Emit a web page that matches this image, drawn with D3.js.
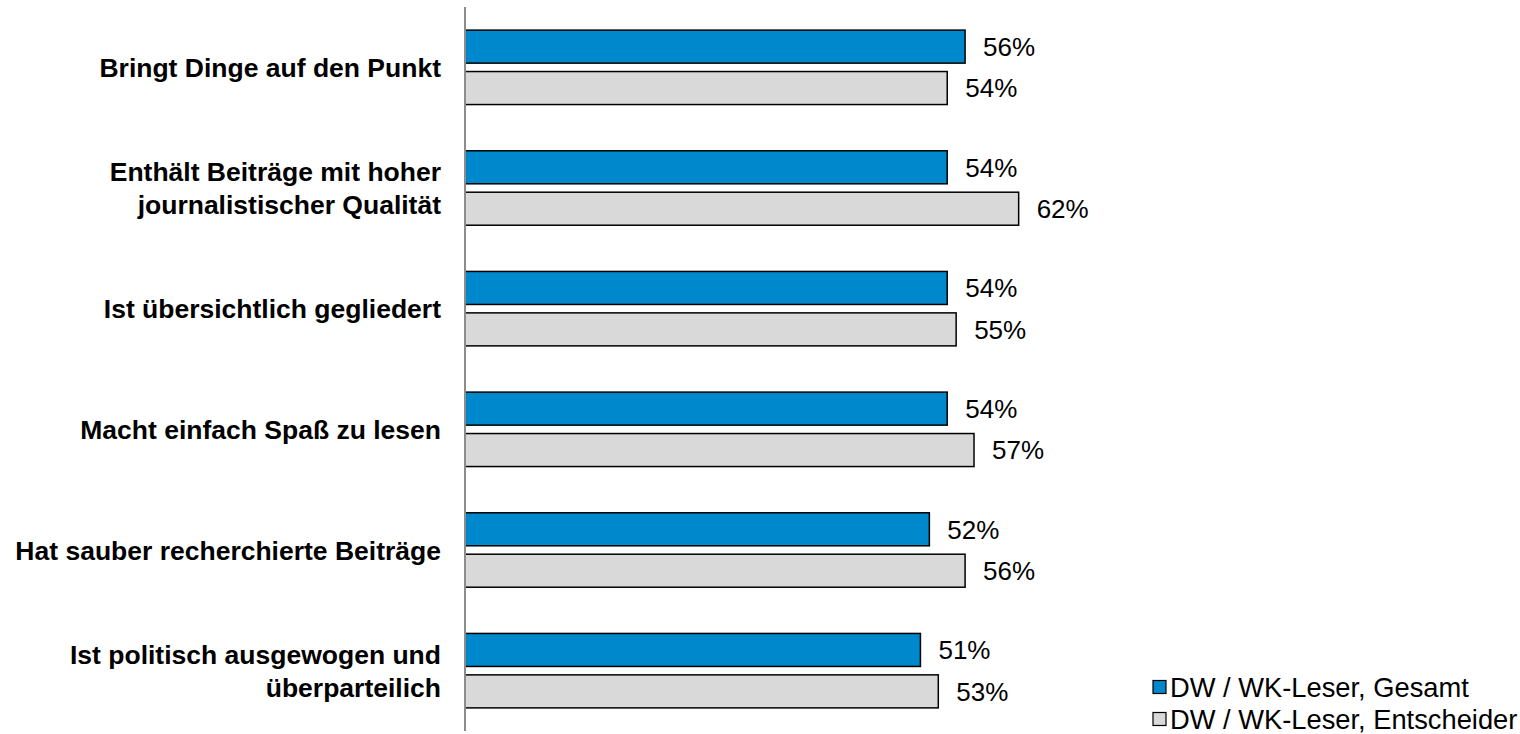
<!DOCTYPE html>
<html><head><meta charset="utf-8">
<script src="https://cdn.jsdelivr.net/npm/d3@7"></script>
<style>body{margin:0;background:#fff;}svg{display:block;font-family:"Liberation Sans",Arial,sans-serif;}</style>
</head><body>
<svg id="c" width="1520" height="734"></svg>
<script>
const categories = [
  ["Bringt Dinge auf den Punkt"],
  ["Enthält Beiträge mit hoher","journalistischer Qualität"],
  ["Ist übersichtlich gegliedert"],
  ["Macht einfach Spaß zu lesen"],
  ["Hat sauber recherchierte Beiträge"],
  ["Ist politisch ausgewogen und","überparteilich"]
];
const seriesNames = ["DW / WK-Leser, Gesamt","DW / WK-Leser, Entscheider"];
const gesamt = [56,54,54,54,52,51];
const entscheider = [54,62,55,57,56,53];
const colors = ["#0088cc","#d9d9d9"];

const svg = d3.select("#c");
const x0 = 465, yTop = 7, yBot = 731;
const x = d3.scaleLinear().domain([0,100]).range([x0, x0+893]);
const y = d3.scaleBand().domain(d3.range(categories.length)).range([yTop,yBot]).paddingInner(0).paddingOuter(0);
const sub = d3.scaleBand().domain([0,1]).range([0,y.bandwidth()]).paddingInner(0.203).paddingOuter(0.558);

const series = [gesamt, entscheider];
series.forEach((vals,si)=>{
  const g = svg.append("g");
  g.selectAll("rect").data(vals).join("rect")
    .attr("x", x(0)).attr("y",(d,i)=>y(i)+sub(si))
    .attr("width", d=>x(d)-x(0)).attr("height", sub.bandwidth())
    .attr("fill", colors[si]).attr("stroke","#000").attr("stroke-width",1.5);
  g.selectAll("text").data(vals).join("text")
    .attr("x", d=>x(d)+18).attr("y",(d,i)=>y(i)+sub(si)+sub.bandwidth()/2)
    .attr("dy","0.36em").attr("font-size",26).attr("fill","#000")
    .text(d=>d+"%");
});

// axis line
svg.append("line").attr("x1",x0).attr("x2",x0).attr("y1",yTop).attr("y2",yBot)
  .attr("stroke","#8c8c8c").attr("stroke-width",2);

// category labels
const cl = svg.append("g");
categories.forEach((lines,i)=>{
  const cy = y(i)+y.bandwidth()/2;
  const lh = 33;
  const t = cl.append("text").attr("text-anchor","end").attr("font-weight","bold")
    .attr("font-size",26.5).attr("fill","#000");
  lines.forEach((ln,j)=>{
    t.append("tspan").attr("x",441)
     .attr("y", cy + (j-(lines.length-1)/2)*lh).attr("dy","0.36em").text(ln);
  });
});

// legend
const lg = svg.append("g");
seriesNames.forEach((n,i)=>{
  const cy = 687 + i*32;
  lg.append("rect").attr("x",1153).attr("y",cy-6.5).attr("width",13).attr("height",13)
    .attr("fill",colors[i]).attr("stroke","#000").attr("stroke-width",1.2);
  lg.append("text").attr("x",1170).attr("y",cy).attr("dy","0.36em")
    .attr("font-size",27.3).attr("fill","#000").text(n);
});
</script>
</body></html>
